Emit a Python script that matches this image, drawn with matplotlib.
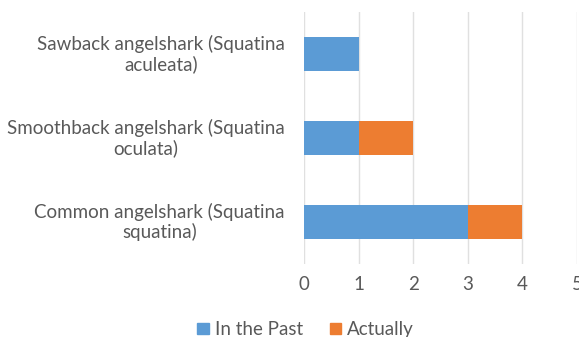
import matplotlib
matplotlib.use("Agg")
import matplotlib.pyplot as plt
from matplotlib.patches import Patch
from matplotlib.transforms import blended_transform_factory

categories = [
    "Common angelshark (Squatina\nsquatina)",
    "Smoothback angelshark (Squatina\noculata)",
    "Sawback angelshark (Squatina\naculeata)",
]
in_the_past = [3, 1, 1]
actually = [1, 1, 0]
series_names = ["In the Past", "Actually"]
x_ticks = [0, 1, 2, 3, 4, 5]

blue = "#5b9bd5"
orange = "#ed7d31"
text_color = "#595959"
grid_color = "#e0e0e0"
label_size = 13.5

plt.rcParams["font.family"] = ["Lato", "DejaVu Sans"]

fig = plt.figure(figsize=(5.79, 3.37), dpi=100)
ax = fig.add_axes([0.525, 0.217, 0.4715, 0.747])

y = list(range(len(categories)))
ax.barh(y, in_the_past, height=0.4, color=blue, zorder=3)
ax.barh(y, actually, left=in_the_past, height=0.4, color=orange, zorder=3)

ax.set_xlim(0, 5)
ax.set_ylim(-0.5, 2.5)
ax.set_xticks(x_ticks)
ax.set_xticklabels([str(t) for t in x_ticks])
ax.set_yticks(y)
ax.set_yticklabels([])
ax.xaxis.grid(True, color=grid_color, linewidth=1, zorder=0)
ax.set_axisbelow(True)
for s in ax.spines.values():
    s.set_visible(False)
ax.tick_params(axis="both", length=0, colors=text_color, labelsize=label_size)
ax.tick_params(axis="x", pad=9)
for lbl in ax.get_xticklabels():
    lbl.set_clip_on(False)

# category labels: block right-aligned next to the axis, each line centred
renderer = fig.canvas.get_renderer()
pix = blended_transform_factory(fig.dpi_scale_trans, ax.transData)
right_px = ax.get_position().x0 * fig.bbox.width - 19
line_gap = 10 / fig.dpi  # half the line pitch, inches
for yi, name in zip(y, categories):
    lines = name.split("\n")
    widths = []
    for ln in lines:
        t = fig.text(0, 0, ln, fontsize=label_size)
        widths.append(t.get_window_extent(renderer).width)
        t.remove()
    cx = (right_px - max(widths) / 2) / fig.dpi
    n = len(lines)
    for i, ln in enumerate(lines):
        off = ((n - 1) / 2 - i) * 2 * line_gap
        ax.text(cx, yi, ln, transform=pix + matplotlib.transforms.ScaledTranslation(0, off, fig.dpi_scale_trans),
                ha="center", va="center", fontsize=label_size, color=text_color)

handles = [Patch(color=blue), Patch(color=orange)]
fig.legend(handles, series_names, loc="center", bbox_to_anchor=(0.528, 0.022),
           ncol=2, frameon=False, fontsize=label_size, labelcolor=text_color,
           handlelength=0.6, handleheight=0.6, handletextpad=0.35,
           columnspacing=1.4)

fig.savefig("out.png", dpi=100)
